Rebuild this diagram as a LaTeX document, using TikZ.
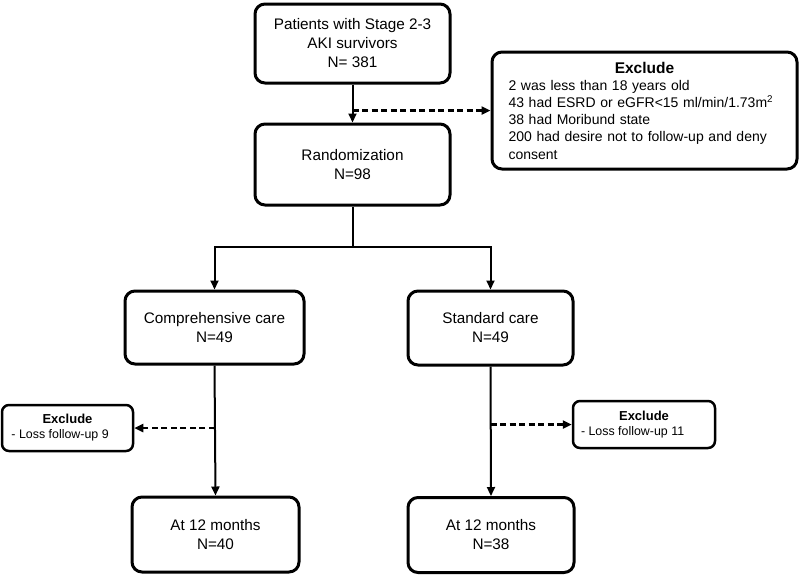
\documentclass[tikz,border=0pt]{standalone}
\usepackage{fontspec}
\setmainfont{Liberation Sans}
\usetikzlibrary{arrows.meta,positioning}

\begin{document}
\begin{tikzpicture}[x=1pt, y=-1pt]
\tikzstyle{box}=[draw, line width=3pt, rounded corners=10pt, align=center, inner sep=0pt,
    font=\fontsize{15.3}{19}\selectfont]
\tikzstyle{small box}=[draw, line width=2.5pt, rounded corners=7pt, align=left, inner sep=0pt,
    font=\fontsize{12.4}{15}\selectfont]
\tikzstyle{arr}=[line width=2pt, -{Triangle[length=9pt, width=8pt]}]
\tikzstyle{dash arr}=[line width=2.3pt, dash pattern=on 6pt off 3.5pt, -{Triangle[length=9pt, width=8pt]}]
\useasboundingbox (0,0) rectangle (800,574);
    % main column
    \node [box, minimum width=195pt, minimum height=79pt] (pat) at (352.5,43.5)
        {Patients with Stage 2-3\\AKI survivors\\N= 381};
    \node [box, minimum width=195pt, minimum height=81pt] (rand) at (352.5,164.5)
        {Randomization\\N=98};
    \node [box, minimum width=305pt, minimum height=117pt, align=left, text width=272pt,
        font=\fontsize{14}{17.2}\selectfont] (excl) at (644.5,110.5)
        {\hbox to 272pt{\hfil\fontsize{15.5}{17}\selectfont\bfseries Exclude\hfil}\\
         2 was less than 18 years old\\
         43 had ESRD or eGFR<15 ml/min/1.73m\textsuperscript{2}\\
         38 had Moribund state\\
         200 had desire not to follow-up and deny\\
         consent};
    % two arms
    \node [box, minimum width=179pt, minimum height=73pt] (comp) at (214.5,327.5)
        {Comprehensive care\\N=49};
    \node [box, minimum width=165pt, minimum height=74pt] (std) at (490.5,328)
        {Standard care\\N=49};
    \node [box, minimum width=167pt, minimum height=75pt] (endl) at (215.5,534.5)
        {At 12 months\\N=40};
    \node [box, minimum width=166pt, minimum height=75pt] (endr) at (491,535)
        {At 12 months\\N=38};
    \node [small box, minimum width=131pt, minimum height=46pt] (lossl) at (67.5,428)
        {\hbox to 112pt{\hfil\fontsize{13}{15}\selectfont\bfseries Exclude\hfil}\\- Loss follow-up 9};
    \node [small box, minimum width=142pt, minimum height=47pt] (lossr) at (644,424.5)
        {\hbox to 126pt{\hfil\fontsize{13}{15}\selectfont\bfseries Exclude\hfil}\\- Loss follow-up 11};
    \coordinate (split) at (352.5,246.5);

    \draw [arr] (pat.south) -- (rand.north);
    \draw [dash arr] (pat.south |- excl.west) -- (excl.west);
    \draw [line width=2pt] (rand.south) -- (split);
    \draw [arr] (split) -| (comp.north);
    \draw [arr] (split) -| (std.north);
    \draw [arr] (comp.south) -- (endl.north);
    \draw [arr] (std.south) -- (endr.north);
    \draw [dash arr] (comp.south |- lossl.east) -- (lossl.east);
    \draw [dash arr] (std.south |- lossr.west) -- (lossr.west);
\end{tikzpicture}
\end{document}
